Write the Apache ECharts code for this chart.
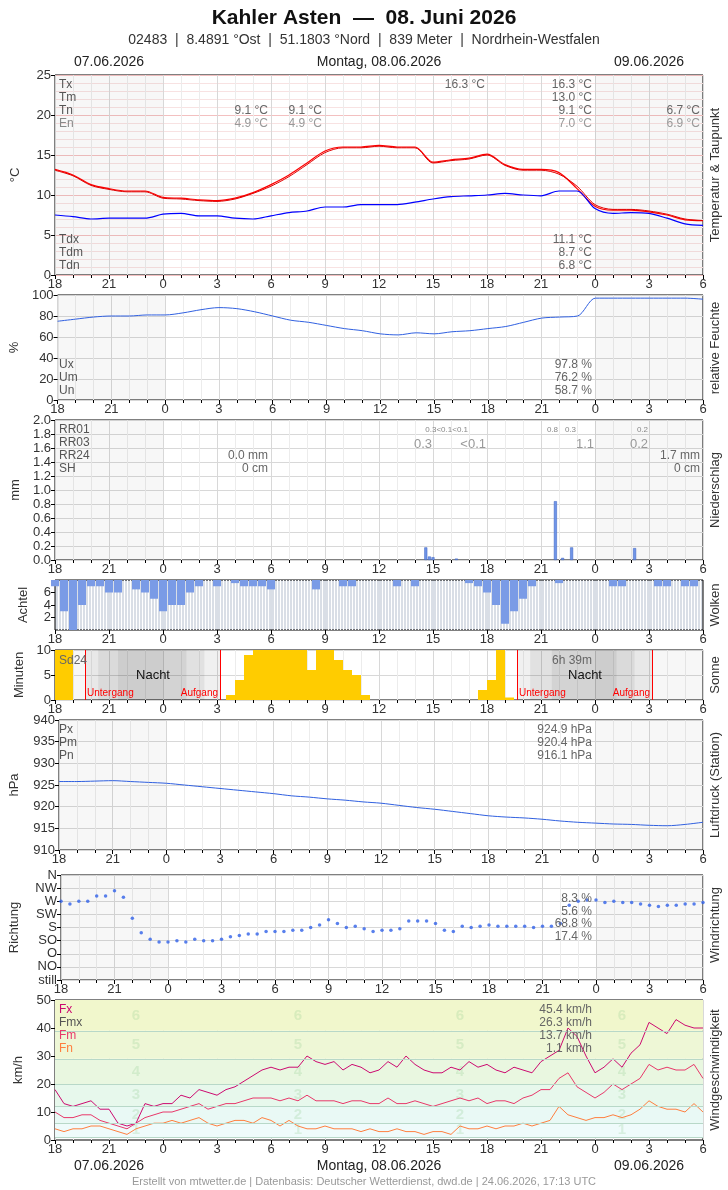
<!DOCTYPE html>
<html><head><meta charset="utf-8">
<script src="https://cdn.jsdelivr.net/npm/echarts@6/dist/echarts.min.js"></script>
<style>html,body{margin:0;padding:0;background:#fff}#c{width:728px;height:1190px}</style>
</head><body><div id="c"></div>
<script>
// ---------- DATA (hours since 07.06. 18:00) ----------
var hourTicks = [18,21,0,3,6,9,12,15,18,21,0,3,6];
// hourly, 18:00 .. 06:00 (37 values)
var tempT  = [13.2,12.5,11.3,10.8,10.5,10.5,9.7,9.6,9.4,9.3,9.6,10.3,11.3,12.5,14.0,15.5,16.0,16.0,16.2,16.0,16.0,14.1,14.4,14.6,15.1,13.8,13.2,13.2,12.8,10.8,8.6,8.1,8.1,7.9,7.5,6.9,6.8];
var tempT2 = [13.1,12.4,11.2,10.7,10.4,10.4,9.6,9.5,9.3,9.2,9.5,10.2,11.1,12.3,13.8,15.3,15.9,15.9,16.1,15.9,15.9,14.0,14.3,14.5,15.0,13.7,13.1,13.1,12.6,11.1,8.8,8.2,8.2,8.0,7.6,7.0,6.8];
var dewTd  = [7.5,7.3,7.0,7.1,7.1,7.1,7.6,7.7,7.4,7.4,7.1,7.0,7.4,7.8,8.0,8.5,8.5,8.8,8.8,8.8,9.1,9.5,9.8,9.9,10.0,10.2,10.0,9.9,10.5,10.5,8.3,7.7,7.8,7.7,7.1,6.4,6.2];
var humidity = [75,77,79,80,80,81,81,83,86,88,87,84,80,76,74,71,68,66,63,62,64,63,65,66,68,70,74,78,79,80,97,97,97,97,97,97,96];
var pressure = [925.8,925.8,925.9,926.0,925.8,925.6,925.4,925.0,924.6,924.2,923.8,923.4,923.0,922.5,922.2,921.8,921.5,921.1,920.8,920.3,919.8,919.4,918.9,918.4,917.9,917.6,917.4,917.1,916.7,916.4,916.2,916.0,915.9,915.7,915.6,915.9,916.4];
// precipitation (hour offset, mm)
var precipHours = [20.6,20.8,21.0,22.3,27.8,28.2,28.7,32.2];
var precipMM    = [0.18,0.05,0.04,0.02,0.84,0.03,0.18,0.17];
// half-hourly (73 values): lower edge of the cloud bar (8 = clear)
var cloudBottom = [7,3,0,4,7,7,6,6,8,6.5,6,5,3,4,4,6,7,8,7,8,7.5,7,7,7,6.5,8,8,8,8,6.5,8,8,7,7,8,8,8,8,7,8,7,8,8,8,8,8,7.5,7,6,4,1,3,5,7,8,8,7.5,8,8,8,8,8,7,7,8,8,8,7,7,8,7,7,8];
var sunMin = [10,10,0,0,0,0,0,0,0,0,0,0,0,0,0,0,0,0,0,1,4,9,10,10,10,10,10,10,6,10,10,8,6,5,1,0,0,0,0,0,0,0,0,0,0,0,0,2,4,10,0.5,0,0,0,0,0,0,0,0,0,0,0,0,0,0,0,0,0,0,0,0,0,0];
var windDir = [6,5.8,6,6,6.4,6.4,6.8,6.3,4.7,3.6,3.1,2.9,2.9,3.0,2.9,3.1,3.0,3.0,3.1,3.3,3.4,3.5,3.5,3.7,3.7,3.7,3.8,3.8,4.0,4.2,4.6,4.3,4.0,4.1,3.9,3.7,3.8,3.8,3.9,4.5,4.5,4.5,4.3,3.8,3.7,4.1,4.0,4.1,4.2,4.1,4.1,4.1,4.1,4.0,4.1,4.1,4.3,5.7,6.0,6.1,6.1,5.9,6.0,5.9,5.9,5.8,5.7,5.6,5.7,5.7,5.8,5.8,5.9];
var dirNames = ['still','NO','O','SO','S','SW','W','NW','N'];
var windFx = [18,13,12,13,14,11,11,6,5,6,13,12,13,13,16,15,18,17,16,18,19,21,23,25,26,25,26,26,30,28,27,28,25,27,26,24,25,28,26,30,27,25,24,24,26,25,28,26,27,25,24,26,25,24,28,30,32,40,37,30,24,26,29,26,31,34,42,40,38,43,41,40,40];
var windFm = [10,8,8,9,9,7,6,5,4,6,8,9,10,10,11,12,13,11,12,13,13,14,15,15,15,14,15,14,16,14,14,14,13,14,14,13,13,15,13,13,14,13,12,13,14,15,14,15,13,14,14,13,15,16,18,18,22,24,19,17,15,17,20,18,20,22,27,25,26,25,25,27,22];
var windFn = [4,3,4,4,5,5,4,3,2,4,5,6,6,7,6,7,8,6,5,6,7,7,6,8,7,5,7,5,4,4,5,4,4,4,3,4,3,3,4,3,3,2,3,3,2,5,4,4,5,4,5,5,6,5,6,7,12,9,8,7,8,8,9,8,9,11,14,12,11,11,10,13,10];
var beaufortLimits = [1,6,12,20,29,39,50];
var beaufortLabelHours = [4.5,13.5,22.5,31.5];
var beaufortColors = ['#effbfb','#e9f9f5','#e7f8ec','#e9f7e0','#eef7d6','#f1f7cc'];

// ---------- helpers ----------
var F = "'Liberation Sans Narrow','Liberation Sans',Arial,sans-serif";
function half(a){return a.map(function(v,i){return [i*0.5,v];});}
function hourly(a){return a.map(function(v,i){return [i,v];});}
var panels = [
 {top:75,h:200}, {top:295,h:105}, {top:420,h:140}, {top:580,h:50},
 {top:650,h:50}, {top:720,h:130}, {top:875,h:105}, {top:1000,h:140}
];
var grids=[],xAxes=[],yAxes=[],series=[];
var SH='rgba(0,0,0,0.03)';
var dayShade = {silent:true,itemStyle:{color:SH},data:[[{xAxis:0},{xAxis:6}],[{xAxis:30},{xAxis:36}]]};
panels.forEach(function(p,i){
  grids.push({left:55,right:25,top:p.top,height:p.h,show:true,borderColor:'#000',borderWidth:1,
    backgroundColor: i===3?'#d9dee6':'#fff'});
  xAxes.push({type:'value',gridIndex:i,min:0,max:36,interval:3,
    axisLine:{show:false},axisTick:{show:true,length:4,lineStyle:{color:'#000'}},
    minorTick:{show:i!==3,splitNumber:3,length:3,lineStyle:{color:'#000'}},
    axisLabel:{color:'#333',fontSize:13,fontFamily:F,margin:3,formatter:function(v){return String((18+v)%24);}},
    splitLine:{show:i!==3,lineStyle:{color:'#d8d8d8'}},
    minorSplitLine:{show:true,lineStyle:{color:i===3?'#ffffff':'#ececec',width:1}}
  });
});
xAxes[3].minorTick.splitNumber=18;
function yA(i,o){var b={type:'value',gridIndex:i,axisLine:{show:false},axisTick:{show:true,length:4,lineStyle:{color:'#000'}},
  axisLabel:{color:'#333',fontSize:13,fontFamily:F,margin:4},
  splitLine:{lineStyle:{color:'#d8d8d8'}},nameLocation:'middle',nameGap:33,nameTextStyle:{color:'#333',fontSize:13,fontFamily:F}};
  for(var k in o)b[k]=o[k];return b;}
yAxes.push(yA(0,{min:0,max:25,interval:5,name:'°C',splitLine:{lineStyle:{color:'#f3c0c0'}},minorSplitLine:{show:true,lineStyle:{color:'#f8e2e2'}},minorTick:{show:false,splitNumber:5}}));
yAxes.push(yA(1,{min:0,max:100,interval:20,name:'%'}));
yAxes.push(yA(2,{min:0,max:2,interval:0.2,name:'mm',axisLabel:{color:'#333',fontSize:13,fontFamily:F,margin:4,formatter:function(v){return v.toFixed(1);}}}));
yAxes.push(yA(3,{min:0,max:8,interval:2,name:'Achtel',nameGap:25,splitLine:{show:false}}));
yAxes.push(yA(4,{min:0,max:10,interval:5,name:'Minuten',nameGap:28}));
yAxes.push(yA(5,{min:910,max:940,interval:5,name:'hPa',nameGap:38}));
yAxes.push(yA(6,{min:0,max:8,interval:1,name:'Richtung',nameGap:40,axisLabel:{color:'#333',fontSize:13,fontFamily:F,margin:4,formatter:function(v){return dirNames[v];}}}));
yAxes.push(yA(7,{min:0,max:50,interval:10,name:'km/h',nameGap:30,splitLine:{show:false}}));
yAxes.push({type:'value',gridIndex:3,min:0,max:8,inverse:true,show:false});

series.push({type:'line',xAxisIndex:0,yAxisIndex:0,data:hourly(tempT),symbol:'none',smooth:0.3,lineStyle:{color:'#ff0000',width:1.2},markArea:dayShade,z:3});
series.push({type:'line',xAxisIndex:0,yAxisIndex:0,data:hourly(tempT2),symbol:'none',smooth:0.3,lineStyle:{color:'#e00000',width:1},z:3});
series.push({type:'line',xAxisIndex:0,yAxisIndex:0,data:hourly(dewTd),symbol:'none',smooth:0.3,lineStyle:{color:'#0000ff',width:1.2},z:3});
series.push({type:'line',xAxisIndex:1,yAxisIndex:1,data:hourly(humidity),symbol:'none',smooth:0.3,lineStyle:{color:'#3060e0',width:1},markArea:dayShade});
series.push({type:'bar',xAxisIndex:2,yAxisIndex:2,data:precipHours.map(function(h,i){return [h,precipMM[i]];}),barWidth:3,itemStyle:{color:'#6f95e8',borderColor:'#3a60c0',borderWidth:0.5},markArea:dayShade});
series.push({type:'bar',xAxisIndex:3,yAxisIndex:8,data:cloudBottom.map(function(v,i){return [i*0.5,8-v];}),barWidth:8,itemStyle:{color:'#7a9be6'}});
var nightA=[[1.7,9.2],[25.7,33.2]], nightB=[[2.4,8.3],[26.4,32.2]], nightC=[[3.5,7.3],[27.6,31.2]];
function ma(list,col){return list.map(function(r){return [{xAxis:r[0],itemStyle:{color:col}},{xAxis:r[1]}];});}
series.push({type:'bar',xAxisIndex:4,yAxisIndex:4,data:half(sunMin).map(function(d){return [d[0]+0.25,d[1]];}),barWidth:9,itemStyle:{color:'#ffcc00'},z:3,
  markArea:{silent:true,data:[[{xAxis:0,itemStyle:{color:SH}},{xAxis:6}],[{xAxis:30,itemStyle:{color:SH}},{xAxis:36}]].concat(ma(nightA,'rgba(0,0,0,0.06)'),ma(nightB,'rgba(0,0,0,0.06)'),ma(nightC,'rgba(0,0,0,0.06)'))},
  markLine:{silent:true,symbol:'none',label:{show:false},lineStyle:{color:'#ff0000',width:1,type:'solid'},data:[{xAxis:1.7},{xAxis:9.2},{xAxis:25.7},{xAxis:33.2}]}});
series.push({type:'line',xAxisIndex:5,yAxisIndex:5,data:hourly(pressure),symbol:'none',smooth:0.3,lineStyle:{color:'#3060e0',width:1},markArea:dayShade});
series.push({type:'scatter',xAxisIndex:6,yAxisIndex:6,data:half(windDir),symbolSize:3.5,itemStyle:{color:'#3060e8'},markArea:dayShade});
var bands=[];for(var b=0;b<6;b++)bands.push([{yAxis:beaufortLimits[b],itemStyle:{color:beaufortColors[b]}},{yAxis:beaufortLimits[b+1]}]);
series.push({type:'line',xAxisIndex:7,yAxisIndex:7,data:half(windFn),symbol:'none',lineStyle:{color:'#ff7f3f',width:1},z:4,
  markArea:{silent:true,data:bands},
  markLine:{silent:true,symbol:'none',label:{show:false},lineStyle:{color:'#b8d8c8',type:'solid',width:1},data:beaufortLimits.slice(0,6).map(function(v){return {yAxis:v};})}});
series.push({type:'line',xAxisIndex:7,yAxisIndex:7,data:half(windFm),symbol:'none',lineStyle:{color:'#e8386a',width:1},z:4});
series.push({type:'line',xAxisIndex:7,yAxisIndex:7,data:half(windFx),symbol:'none',lineStyle:{color:'#cc0a70',width:1},z:4});
var bfl=[];beaufortLabelHours.forEach(function(h){for(var b=0;b<6;b++)bfl.push({value:[h,(beaufortLimits[b]+beaufortLimits[b+1])/2],label:{formatter:String(b+1)}});});
series.push({type:'scatter',xAxisIndex:7,yAxisIndex:7,data:bfl,symbolSize:0,silent:true,z:2,label:{show:true,position:'inside',color:'rgba(140,200,140,0.3)',fontSize:15,fontWeight:'bold',fontFamily:F}});

var G=[];
function TR(x,y,s,o){o=o||{};G.push({type:'text',x:x,y:y,z:50,style:{text:s,fill:o.c||'#666',font:(o.s||12)+'px '+F,textAlign:o.a||'right',textVerticalAlign:'middle'}});}
function TL(x,y,s,c,sz){TR(x,y,s,{c:c||'#555',a:'left',s:sz});}
G.push({type:'text',x:364,y:18,style:{text:'Kahler Asten  —  08. Juni 2026',font:'bold 21px '+F,fill:'#111',textAlign:'center',textVerticalAlign:'middle'}});
G.push({type:'text',x:364,y:40,style:{text:'02483  |  8.4891 °Ost  |  51.1803 °Nord  |  839 Meter  |  Nordrhein-Westfalen',font:'14px '+F,fill:'#333',textAlign:'center',textVerticalAlign:'middle'}});
[[62],[1166]].forEach(function(r){
  [[109,'07.06.2026'],[379,'Montag, 08.06.2026'],[649,'09.06.2026']].forEach(function(d){
    G.push({type:'text',x:d[0],y:r[0],style:{text:d[1],font:'14px '+F,fill:'#222',textAlign:'center',textVerticalAlign:'middle'}});});});
G.push({type:'text',x:364,y:1182,style:{text:'Erstellt von mtwetter.de | Datenbasis: Deutscher Wetterdienst, dwd.de | 24.06.2026, 17:13 UTC',font:'11px '+F,fill:'#999',textAlign:'center',textVerticalAlign:'middle'}});
[['Temperatur & Taupunkt',175],['relative Feuchte',348],['Niederschlag',490],['Wolken',605],['Sonne',675],['Luftdruck (Station)',785],['Windrichtung',925],['Windgeschwindigkeit',1070]].forEach(function(r){
  G.push({type:'text',x:715,y:r[1],rotation:Math.PI/2,style:{text:r[0],font:'13px '+F,fill:'#333',textAlign:'center',textVerticalAlign:'middle'}});});
TL(59,85,'Tx');TL(59,98,'Tm');TL(59,111,'Tn');TL(59,124,'En','#888');
TR(485,85,'16.3 °C');TR(592,85,'16.3 °C');TR(592,98,'13.0 °C');TR(592,111,'9.1 °C');TR(592,124,'7.0 °C',{c:'#999'});
TR(268,111,'9.1 °C');TR(268,124,'4.9 °C',{c:'#999'});TR(322,111,'9.1 °C');TR(322,124,'4.9 °C',{c:'#999'});
TR(700,111,'6.7 °C');TR(700,124,'6.9 °C',{c:'#999'});
TL(59,240,'Tdx');TL(59,253,'Tdm');TL(59,266,'Tdn');
TR(592,240,'11.1 °C');TR(592,253,'8.7 °C');TR(592,266,'6.8 °C');
TL(59,365,'Ux');TL(59,378,'Um');TL(59,391,'Un');
TR(592,365,'97.8 %');TR(592,378,'76.2 %');TR(592,391,'58.7 %');
TL(59,430,'RR01');TL(59,443,'RR03');TL(59,456,'RR24');TL(59,469,'SH');
TR(468,430,'0.3<0.1<0.1',{s:8,c:'#888'});TR(558,430,'0.8',{s:8,c:'#888'});TR(576,430,'0.3',{s:8,c:'#888'});TR(648,430,'0.2',{s:8,c:'#888'});
TR(432,444,'0.3',{s:13,c:'#999'});TR(486,444,'<0.1',{s:13,c:'#999'});TR(594,444,'1.1',{s:13,c:'#999'});TR(648,444,'0.2',{s:13,c:'#999'});
TR(268,456,'0.0 mm');TR(268,469,'0 cm');TR(700,456,'1.7 mm');TR(700,469,'0 cm');
TL(59,661,'Sd24','#666');TR(592,661,'6h 39m');
G.push({type:'text',x:153,y:675,z:50,style:{text:'Nacht',font:'13px '+F,fill:'#111',textAlign:'center',textVerticalAlign:'middle'}});
G.push({type:'text',x:585,y:675,z:50,style:{text:'Nacht',font:'13px '+F,fill:'#111',textAlign:'center',textVerticalAlign:'middle'}});
TL(87,693,'Untergang','#ff0000',10);TR(218,693,'Aufgang',{c:'#ff0000',s:10});TL(519,693,'Untergang','#ff0000',10);TR(650,693,'Aufgang',{c:'#ff0000',s:10});
TL(59,730,'Px');TL(59,743,'Pm');TL(59,756,'Pn');
TR(592,730,'924.9 hPa');TR(592,743,'920.4 hPa');TR(592,756,'916.1 hPa');
TR(592,899,'8.3 %');TR(592,912,'5.6 %');TR(592,924,'68.8 %');TR(592,937,'17.4 %');
TL(59,1010,'Fx','#cc0a70');TL(59,1023,'Fmx','#555');TL(59,1036,'Fm','#e8386a');TL(59,1049,'Fn','#ff7f3f');
TR(592,1010,'45.4 km/h');TR(592,1023,'26.3 km/h');TR(592,1036,'13.7 km/h');TR(592,1049,'1.1 km/h');

var chart=echarts.init(document.getElementById('c'),null,{renderer:'canvas'});
chart.setOption({animation:false,backgroundColor:'#fff',grid:grids,xAxis:xAxes,yAxis:yAxes,series:series,graphic:G});
</script></body></html>
